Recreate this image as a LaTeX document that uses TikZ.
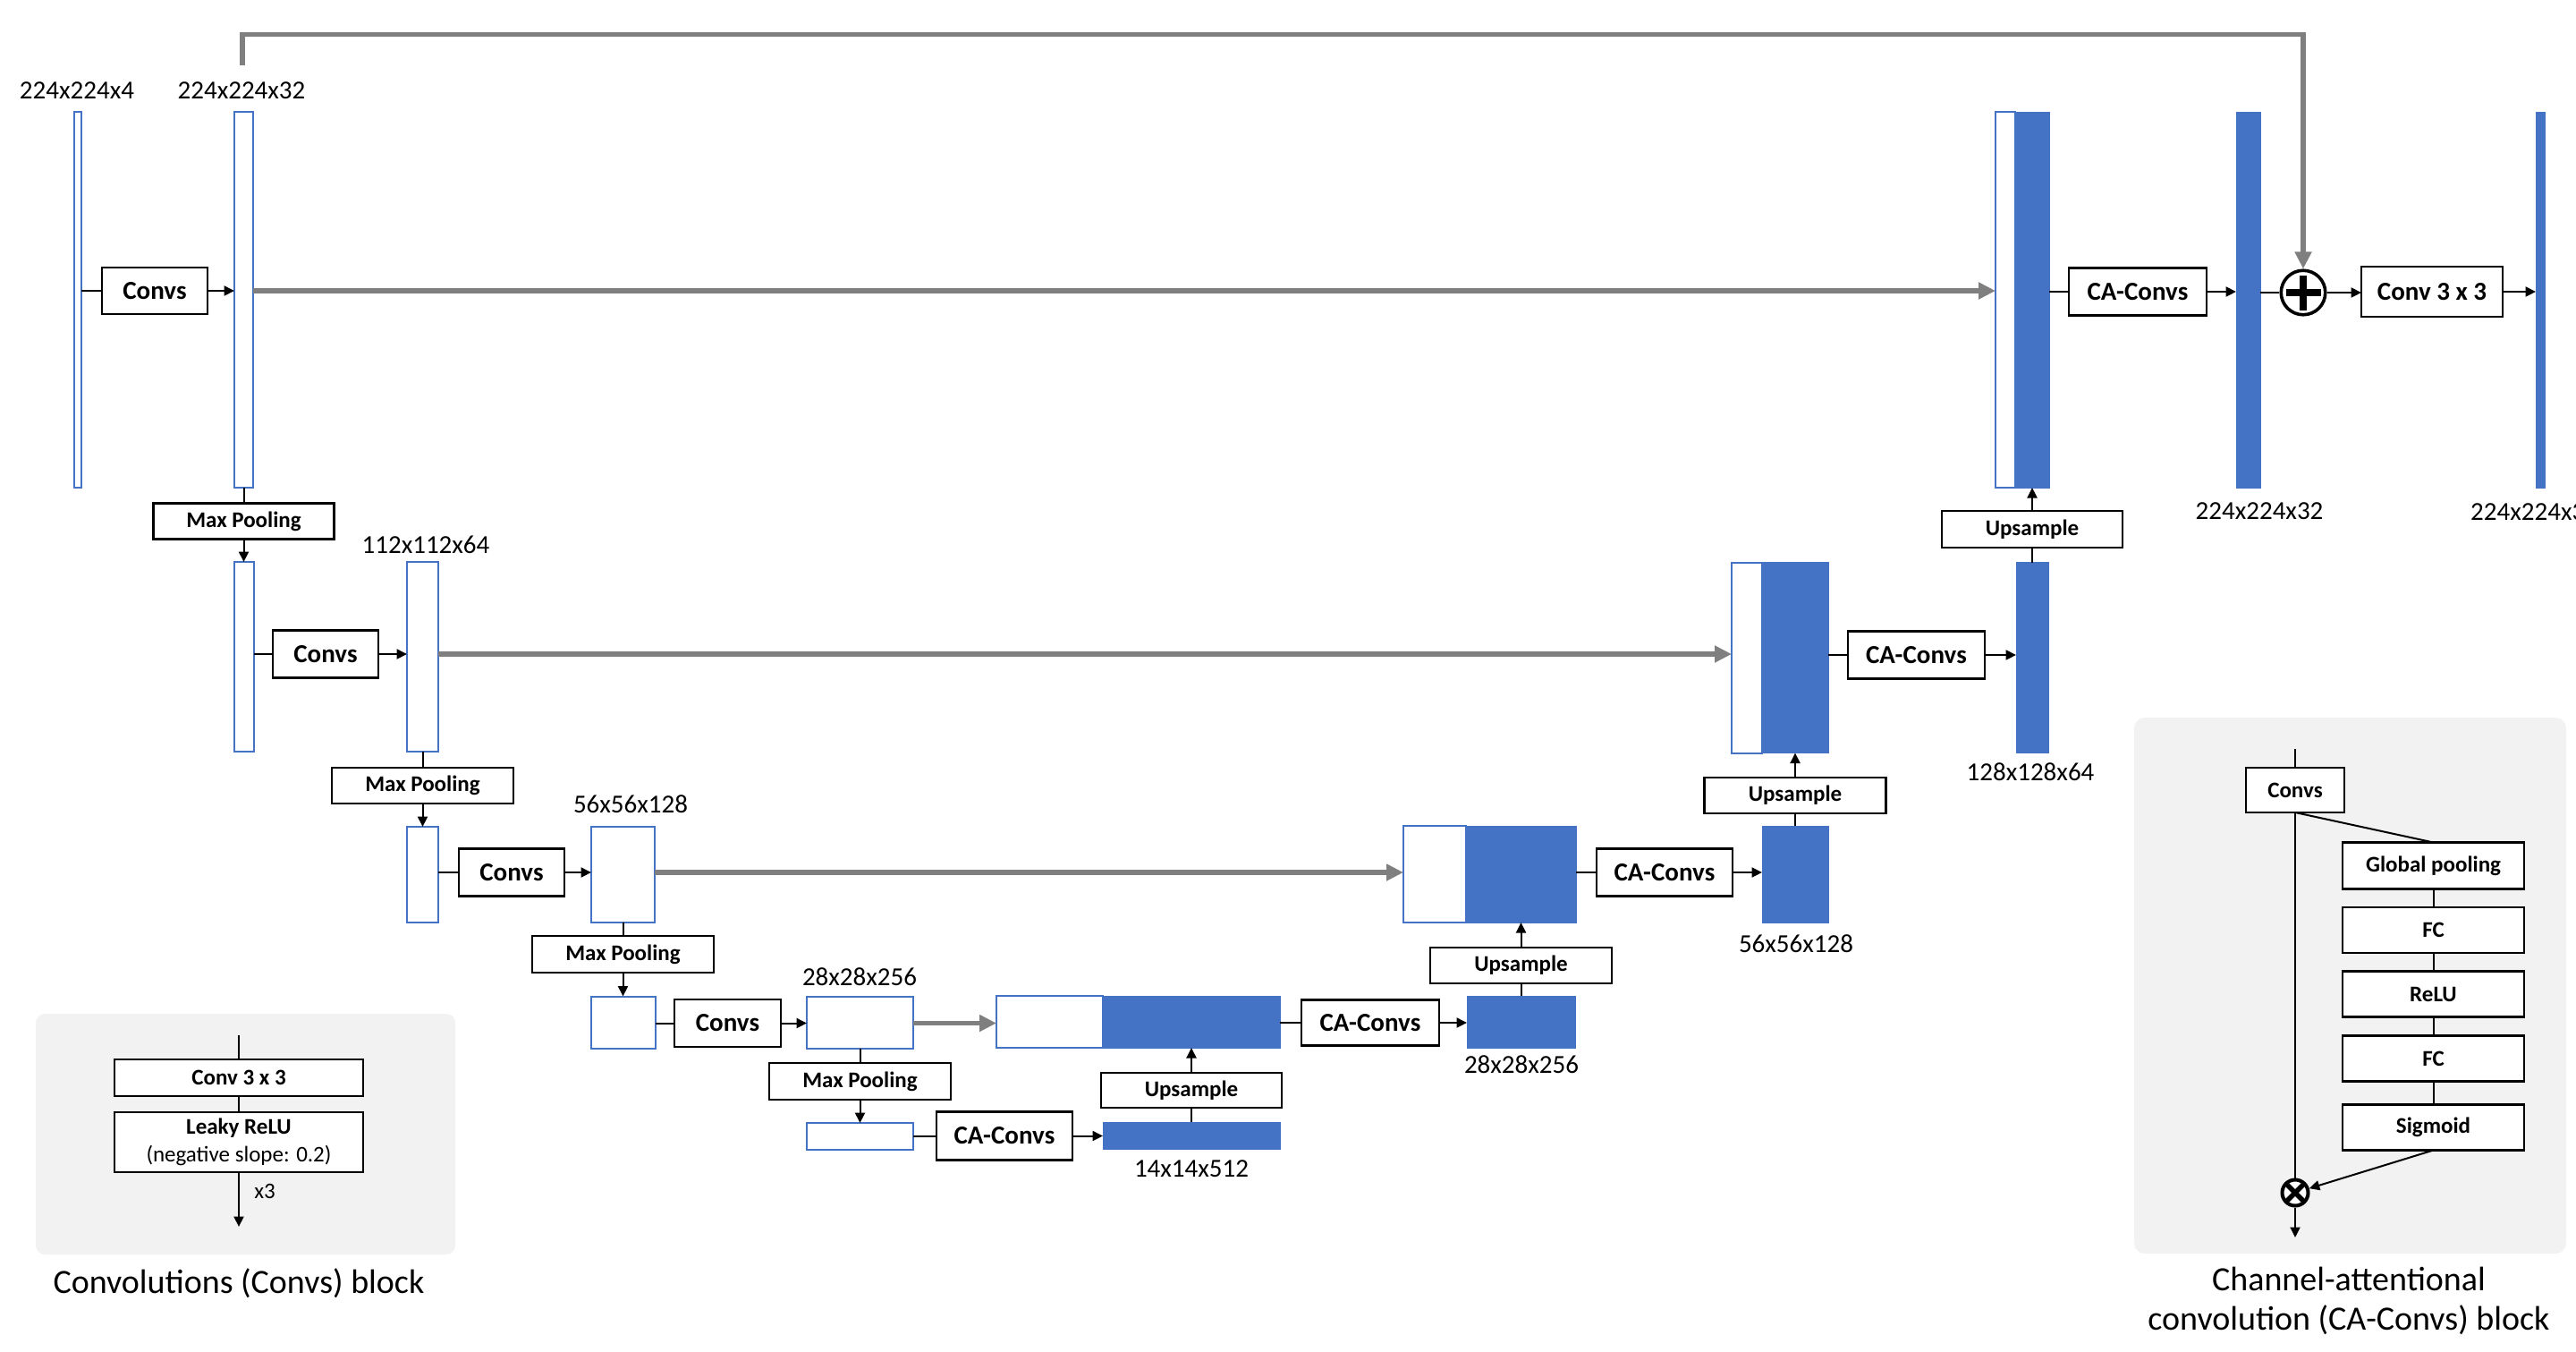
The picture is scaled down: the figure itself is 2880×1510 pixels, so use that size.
\documentclass[tikz,border=0pt]{standalone}
\usepackage{fontspec}
\setmainfont{Carlito}
\usetikzlibrary{arrows.meta}
\definecolor{bblue}{HTML}{4472C4}
\definecolor{sgray}{HTML}{7F7F7F}
\definecolor{panelgray}{HTML}{F2F2F2}
\newcommand{\fszA}{\fontsize{29}{34}\selectfont}
\newcommand{\fszB}{\fontsize{25}{31}\selectfont}
\newcommand{\fszC}{\fontsize{38}{44}\selectfont}
\tikzset{
  box/.style={draw=black, line width=2.2pt, fill=white, inner sep=0pt, outer sep=0pt, font=\fszA\bfseries},
  sbox/.style={box, font=\fszB\bfseries},
  wbar/.style={draw=bblue, line width=2pt, fill=white, inner sep=0pt, outer sep=0pt},
  fbar/.style={draw=bblue, fill=bblue, line width=0.5pt, inner sep=0pt, outer sep=0pt},
  con/.style={draw=black, line width=2pt},
  arr/.style={con, -{Triangle[length=11.5pt,width=11pt]}},
  skip/.style={draw=sgray, line width=5.5pt, -{Triangle[length=19pt,width=18pt]}},
  dim/.style={font=\fszA, inner sep=0pt},
  captxt/.style={font=\fszC, inner sep=0pt, align=center},
}
\begin{document}
\begin{tikzpicture}[x=1pt,y=-1pt]
\useasboundingbox (0,0) rectangle (2880,1510);
% legend panels
\fill[panelgray, rounded corners=10pt] (40,1133) rectangle (509,1402);
\fill[panelgray, rounded corners=12pt] (2386,802) rectangle (2869,1401);

% ---------- level 1 ----------
\node[wbar, minimum width=8pt, minimum height=420pt] (in0) at (87,335) {};
\node[wbar, minimum width=21pt, minimum height=420pt] (e1) at (272.5,335) {};
\node[box, minimum width=118pt, minimum height=52pt] (conv1) at (173,325) {Convs};
\node[dim] (l0) at (86,101) {224x224x4};
\node[dim] (l1) at (270,101) {224x224x32};
\node[sbox, minimum width=202pt, minimum height=40pt] (mp1) at (272.5,582.5) {Max Pooling};

\node[wbar, minimum width=22pt, minimum height=420pt] (d1w) at (2242,335) {};
\node[fbar, minimum width=38pt, minimum height=420pt] (d1b) at (2272,335) {};
\node[box, minimum width=154pt, minimum height=53pt] (ca1) at (2390,326) {CA-Convs};
\node[fbar, minimum width=27pt, minimum height=420pt] (o1) at (2513.5,335) {};
\node[circle, draw=black, line width=3.6pt, minimum size=49.5pt, inner sep=0pt, fill=white,
  path picture={\draw[line width=7.5pt] (path picture bounding box.center) ++(0,-19.5) -- ++(0,39)
  (path picture bounding box.center) ++(-19.5,0) -- ++(39,0);}] (plus) at (2575,327) {};
\node[box, minimum width=158pt, minimum height=56pt] (c33) at (2719,326) {Conv 3 x 3};
\node[fbar, minimum width=10pt, minimum height=420pt] (fin) at (2840,335) {};
\node[dim] (l1b) at (2526,571) {224x224x32};
\node[dim, anchor=west] (lfin) at (2762,572) {224x224x3};
\node[sbox, minimum width=202pt, minimum height=41pt] (up1) at (2272,591.5) {Upsample};

% ---------- level 2 ----------
\node[wbar, minimum width=22pt, minimum height=212pt] (p2) at (272.5,734) {};
\node[box, minimum width=118pt, minimum height=53pt] (conv2) at (364,731) {Convs};
\node[wbar, minimum width=35pt, minimum height=212pt] (e2) at (472.5,734) {};
\node[dim] (l2) at (476,609) {112x112x64};
\node[sbox, minimum width=203pt, minimum height=40pt] (mp2) at (472.5,878) {Max Pooling};

\node[wbar, minimum width=34pt, minimum height=213pt] (d2w) at (1953,735) {};
\node[fbar, minimum width=74pt, minimum height=213pt] (d2b) at (2007,735) {};
\node[box, minimum width=153pt, minimum height=53pt] (ca2) at (2142.5,732) {CA-Convs};
\node[fbar, minimum width=36pt, minimum height=213pt] (o2) at (2272,735) {};
\node[dim] (l2b) at (2270,863) {128x128x64};
\node[sbox, minimum width=203pt, minimum height=40pt] (up2) at (2007,889) {Upsample};

% ---------- level 3 ----------
\node[wbar, minimum width=35pt, minimum height=107pt] (p3) at (472.5,977.5) {};
\node[box, minimum width=118pt, minimum height=53pt] (conv3) at (572,975) {Convs};
\node[wbar, minimum width=71pt, minimum height=107pt] (e3) at (696.5,977) {};
\node[dim] (l3) at (705,899) {56x56x128};
\node[sbox, minimum width=203pt, minimum height=41pt] (mp3) at (696.5,1066.5) {Max Pooling};

\node[wbar, minimum width=70pt, minimum height=108pt] (d3w) at (1604,977) {};
\node[fbar, minimum width=123pt, minimum height=108pt] (d3b) at (1700.5,977) {};
\node[box, minimum width=152pt, minimum height=53pt] (ca3) at (1861,975) {CA-Convs};
\node[fbar, minimum width=74pt, minimum height=108pt] (o3) at (2007,977) {};
\node[dim] (l3b) at (2008,1055) {56x56x128};
\node[sbox, minimum width=203pt, minimum height=40pt] (up3) at (1700.5,1079) {Upsample};

% ---------- level 4 ----------
\node[wbar, minimum width=72pt, minimum height=58pt] (p4) at (696.5,1142.5) {};
\node[box, minimum width=119pt, minimum height=53pt] (conv4) at (813.5,1143.5) {Convs};
\node[wbar, minimum width=119pt, minimum height=58pt] (e4) at (961.5,1142.5) {};
\node[dim] (l4) at (961,1092) {28x28x256};
\node[sbox, minimum width=203pt, minimum height=41pt] (mp4) at (961.5,1208.5) {Max Pooling};

\node[wbar, minimum width=119pt, minimum height=58pt] (d4w) at (1173.5,1142) {};
\node[fbar, minimum width=198pt, minimum height=58pt] (d4b) at (1332,1142) {};
\node[box, minimum width=154pt, minimum height=51pt] (ca4) at (1532,1143) {CA-Convs};
\node[fbar, minimum width=121pt, minimum height=58pt] (o4) at (1700.5,1142) {};
\node[dim] (l4b) at (1701,1190) {28x28x256};
\node[sbox, minimum width=202pt, minimum height=39pt] (up4) at (1332,1218.5) {Upsample};

% ---------- level 5 ----------
\node[wbar, minimum width=119pt, minimum height=30pt] (p5) at (961.5,1270) {};
\node[box, minimum width=152pt, minimum height=54pt] (ca5) at (1123,1269.5) {CA-Convs};
\node[fbar, minimum width=198pt, minimum height=30pt] (o5) at (1332,1269) {};
\node[dim] (l5) at (1332,1306) {14x14x512};

% ---------- connectors: encoder ----------
\draw[con] (in0.east |- conv1.west) -- (conv1.west);
\draw[arr] (conv1.east) -- (conv1.east -| e1.west);
\draw[con] (e1.south) -- (mp1.north);
\draw[arr] (mp1.south) -- (p2.north);
\draw[con] (p2.east |- conv2.west) -- (conv2.west);
\draw[arr] (conv2.east) -- (conv2.east -| e2.west);
\draw[con] (e2.south) -- (mp2.north);
\draw[arr] (mp2.south) -- (p3.north);
\draw[con] (p3.east |- conv3.west) -- (conv3.west);
\draw[arr] (conv3.east) -- (conv3.east -| e3.west);
\draw[con] (e3.south) -- (mp3.north);
\draw[arr] (mp3.south) -- (p4.north);
\draw[con] (p4.east |- conv4.west) -- (conv4.west);
\draw[arr] (conv4.east) -- (conv4.east -| e4.west);
\draw[con] (e4.south) -- (mp4.north);
\draw[arr] (mp4.south) -- (p5.north);
\draw[con] (p5.east |- ca5.west) -- (ca5.west);
\draw[arr] (ca5.east) -- (ca5.east -| o5.west);

% ---------- connectors: decoder ----------
\draw[con] (o5.north) -- (up4.south);
\draw[arr] (up4.north) -- (d4b.south);
\draw[con] (d4b.east |- ca4.west) -- (ca4.west);
\draw[arr] (ca4.east) -- (ca4.east -| o4.west);
\draw[con] (o4.north) -- (up3.south);
\draw[arr] (up3.north) -- (d3b.south);
\draw[con] (d3b.east |- ca3.west) -- (ca3.west);
\draw[arr] (ca3.east) -- (ca3.east -| o3.west);
\draw[con] (o3.north) -- (up2.south);
\draw[arr] (up2.north) -- (d2b.south);
\draw[con] (d2b.east |- ca2.west) -- (ca2.west);
\draw[arr] (ca2.east) -- (ca2.east -| o2.west);
\draw[con] (o2.north) -- (up1.south);
\draw[arr] (up1.north) -- (d1b.south);
\draw[con] (d1b.east |- ca1.west) -- (ca1.west);
\draw[arr] (ca1.east) -- (ca1.east -| o1.west);
\draw[con] (o1.east |- plus.west) -- (plus.west);
\draw[arr] (plus.east) -- (plus.east -| c33.west);
\draw[arr] (c33.east) -- (c33.east -| fin.west);

% ---------- skip connections ----------
\draw[skip] (conv1.east -| e1.east) -- (conv1.east -| d1w.west);
\draw[skip] (conv2.east -| e2.east) -- (conv2.east -| d2w.west);
\draw[skip] (conv3.east -| e3.east) -- (conv3.east -| d3w.west);
\draw[skip] (conv4.east -| e4.east) -- (conv4.east -| d4w.west);
\coordinate (sk) at (271,73);
\coordinate (sktop) at (0,38.5);
\draw[skip] (sk) -- (sk |- sktop) -| (plus.north);

% ---------- Convs legend ----------
\node[sbox, minimum width=278pt, minimum height=41pt] (lc1) at (267,1204.5) {Conv 3 x 3};
\node[sbox, minimum width=278pt, minimum height=67pt, align=center] (lc2) at (267,1276.5)
  {Leaky ReLU\\{\mdseries (negative slope: 0.2)}};
\coordinate (lt) at (267,1157);
\coordinate (lb) at (267,1371);
\draw[con] (lt) -- (lc1.north);
\draw[con] (lc1.south) -- (lc2.north);
\draw[arr] (lc2.south) -- (lb);
\node[font=\fszB, inner sep=0pt] (x3) at (296,1331) {x3};
\node[captxt] (capL) at (267,1434) {Convolutions (Convs) block};

% ---------- CA-Convs legend ----------
\node[sbox, minimum width=110pt, minimum height=50pt] (rc) at (2566,883) {Convs};
\node[sbox, minimum width=203pt, minimum height=52pt] (gp) at (2720.5,967.5) {Global pooling};
\node[sbox, minimum width=203pt, minimum height=51pt] (fc1) at (2720.5,1039.5) {FC};
\node[sbox, minimum width=203pt, minimum height=51pt] (relu) at (2720.5,1111) {ReLU};
\node[sbox, minimum width=203pt, minimum height=51pt] (fc2) at (2720.5,1183) {FC};
\node[sbox, minimum width=203pt, minimum height=51pt] (sig) at (2720.5,1260) {Sigmoid};
\node[circle, draw=black, line width=4pt, minimum size=29pt, inner sep=0pt, fill=white,
  path picture={\draw[line width=5.5pt] (path picture bounding box.north west) -- (path picture bounding box.south east)
  (path picture bounding box.south west) -- (path picture bounding box.north east);}] (ox) at (2566,1333) {};
\coordinate (rt) at (2566,837);
\coordinate (rb) at (2566,1383);
\draw[con] (rt) -- (rc.north);
\draw[con] (rc.south) -- (gp.north);
\draw[con] (rc.south) -- (ox.north);
\draw[con] (gp.south) -- (fc1.north);
\draw[con] (fc1.south) -- (relu.north);
\draw[con] (relu.south) -- (fc2.north);
\draw[con] (fc2.south) -- (sig.north);
\draw[arr] (sig.south) -- (ox);
\draw[arr] (ox.south) -- (rb);
\node[captxt] (capR) at (2626,1454) {Channel-attentional\\convolution (CA-Convs) block};
\end{tikzpicture}
\end{document}
